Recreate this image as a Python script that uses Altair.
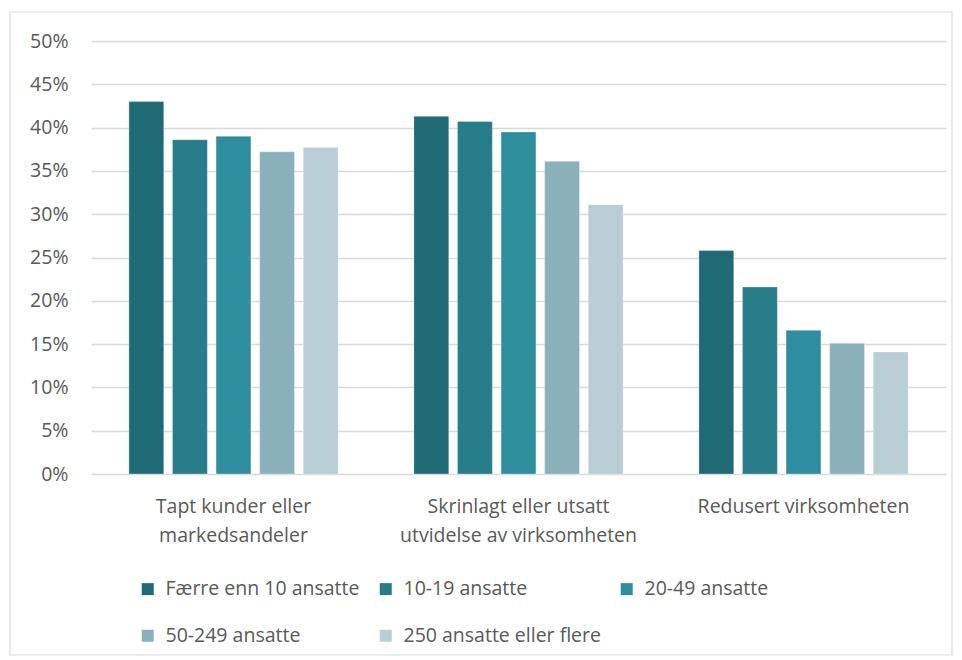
import altair as alt
import pandas as pd

categories = ["Tapt kunder eller|markedsandeler",
              "Skrinlagt eller utsatt|utvidelse av virksomheten",
              "Redusert virksomheten"]
series = [" Færre enn 10 ansatte", "10-19 ansatte", "20-49 ansatte",
          "50-249 ansatte", "250 ansatte eller flere"]
colors = ["#1F6B75", "#267C89", "#2E8E9E", "#8AB1BA", "#B8CDD4"]
values = [
    [0.430, 0.386, 0.390, 0.372, 0.377],
    [0.413, 0.407, 0.395, 0.361, 0.311],
    [0.258, 0.216, 0.166, 0.151, 0.141],
]
y_ticks = [0, 0.05, 0.10, 0.15, 0.20, 0.25, 0.30, 0.35, 0.40, 0.45, 0.50]

rows = []
for ci, cat in enumerate(categories):
    for si, s in enumerate(series):
        rows.append({"kategori": cat, "gruppe": s, "andel": values[ci][si]})
df = pd.DataFrame(rows)

FONT = "Open Sans"
TXT = "#595959"
FS = 19.5

bars = alt.Chart(df).mark_bar(stroke="white", strokeWidth=0.6, strokeOpacity=0.5).encode(
    x=alt.X("kategori:N", sort=categories, title=None,
            scale=alt.Scale(paddingInner=0.266, paddingOuter=0.133),
            axis=alt.Axis(labelAngle=0, labelExpr="split(datum.label, '|')",
                          labelLineHeight=29, labelPadding=23, ticks=False,
                          domain=False, grid=False, labelFontSize=FS, labelColor=TXT,
                          labelFont=FONT, labelBaseline="top", labelLimit=0)),
    xOffset=alt.XOffset("gruppe:N", sort=series,
                        scale=alt.Scale(paddingInner=0.2, paddingOuter=0)),
    y=alt.Y("andel:Q", title=None,
            scale=alt.Scale(domain=[0, 0.5]),
            axis=alt.Axis(values=y_ticks, format=".0%", ticks=False, domain=False,
                          labelPadding=23, labelFontSize=FS, labelColor=TXT,
                          labelFont=FONT, gridColor="#D9D9D9", gridWidth=1.3)),
    color=alt.Color("gruppe:N", sort=series,
                    scale=alt.Scale(domain=series, range=colors),
                    legend=alt.Legend(title=None, orient="none", legendX=47, legendY=538,
                                      columns=3, direction="horizontal",
                                      symbolType="square", symbolSize=144,
                                      symbolStrokeWidth=0, labelOffset=8,
                                      labelFontSize=FS, labelColor=TXT, labelFont=FONT,
                                      columnPadding=16, rowPadding=26,
                                      labelLimit=400)),
)

frame = alt.Chart(pd.DataFrame({"a": [0]})).mark_rect(
    fill=None, stroke="#D9D9D9", strokeWidth=1.2, clip=False
).encode(x=alt.value(-81), x2=alt.value(861), y=alt.value(-29), y2=alt.value(614))

chart = alt.layer(frame, bars).properties(
    width=855, height=433,
    autosize=alt.AutoSizeParams(type="none"),
    padding={"left": 83, "top": 33, "right": 8, "bottom": 182},
).configure(font=FONT).configure_view(strokeWidth=0, stroke="transparent")

chart.save("out.html", embed_options={"renderer": "svg", "actions": False})
